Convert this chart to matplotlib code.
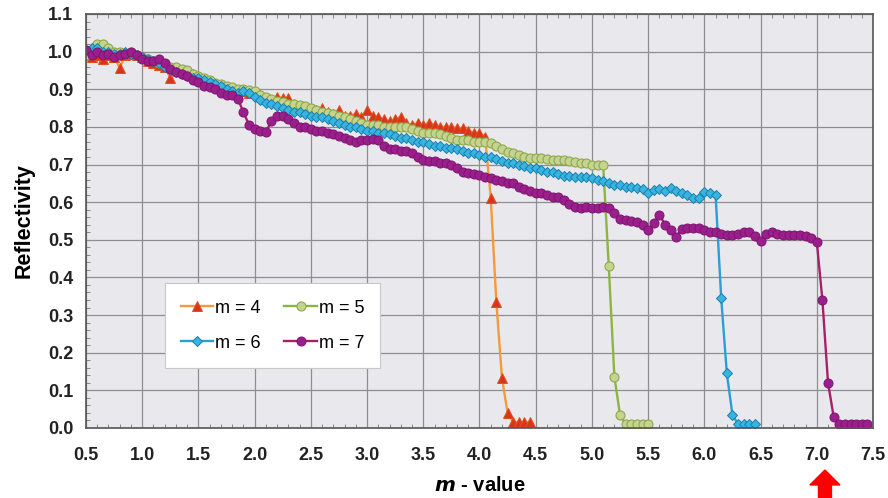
import numpy as np
import matplotlib
matplotlib.use("Agg")
import matplotlib.pyplot as plt
from matplotlib.patches import FancyArrow
from matplotlib.ticker import MultipleLocator

plt.rcParams["font.family"] = ["Liberation Sans", "DejaVu Sans"]

# m-value grids (step 0.05), one per coating
m4_x = np.round(np.arange(0.5, 4.451, 0.05), 2)
m5_x = np.round(np.arange(0.5, 5.501, 0.05), 2)
m6_x = np.round(np.arange(0.5, 6.451, 0.05), 2)
m7_x = np.round(np.arange(0.5, 7.451, 0.05), 2)

# reflectivity
m4_r = [0.99, 0.985, 0.99, 0.98, 0.99, 0.985, 0.957, 0.99, 0.995, 0.99,
        0.985, 0.975, 0.97, 0.965, 0.96, 0.93, 0.955, 0.95, 0.945, 0.94,
        0.93, 0.925, 0.92, 0.915, 0.91, 0.905, 0.90, 0.895, 0.895, 0.89,
        0.89, 0.885, 0.875, 0.87, 0.88, 0.877, 0.878, 0.86, 0.855, 0.85,
        0.846, 0.845, 0.85, 0.84, 0.835, 0.846, 0.83, 0.83, 0.835, 0.825,
        0.846, 0.83, 0.827, 0.82, 0.815, 0.82, 0.827, 0.81, 0.805, 0.81,
        0.805, 0.81, 0.806, 0.80, 0.80, 0.80, 0.797, 0.796, 0.79, 0.785,
        0.784, 0.774, 0.612, 0.335, 0.133, 0.04, 0.015, 0.015, 0.015, 0.015]

m5_r = [0.99, 1.00, 1.02, 1.02, 1.01, 1.00, 1.00, 0.995, 1.00, 0.99,
        0.985, 0.98, 0.975, 0.97, 0.965, 0.96, 0.96, 0.955, 0.95, 0.94,
        0.935, 0.93, 0.925, 0.917, 0.915, 0.91, 0.905, 0.90, 0.90, 0.899,
        0.895, 0.885, 0.88, 0.875, 0.87, 0.865, 0.86, 0.86, 0.859, 0.855,
        0.85, 0.845, 0.84, 0.838, 0.835, 0.83, 0.825, 0.82, 0.815, 0.81,
        0.806, 0.805, 0.805, 0.80, 0.80, 0.80, 0.80, 0.80, 0.795, 0.79,
        0.785, 0.784, 0.784, 0.78, 0.775, 0.77, 0.766, 0.765, 0.765, 0.76,
        0.76, 0.76, 0.758, 0.75, 0.74, 0.734, 0.73, 0.725, 0.72, 0.718,
        0.718, 0.718, 0.715, 0.713, 0.713, 0.713, 0.71, 0.707, 0.705, 0.705,
        0.70, 0.70, 0.70, 0.43, 0.136, 0.035, 0.01, 0.01, 0.01, 0.01,
        0.01]

m6_r = [1.005, 1.01, 1.01, 1.00, 1.00, 0.995, 0.995, 1.00, 0.995, 0.99,
        0.985, 0.98, 0.975, 0.97, 0.96, 0.952, 0.945, 0.94, 0.935, 0.93,
        0.93, 0.925, 0.92, 0.915, 0.91, 0.90, 0.895, 0.89, 0.895, 0.89,
        0.88, 0.872, 0.864, 0.86, 0.855, 0.85, 0.846, 0.84, 0.84, 0.835,
        0.83, 0.827, 0.825, 0.82, 0.815, 0.81, 0.806, 0.80, 0.80, 0.795,
        0.79, 0.788, 0.785, 0.784, 0.78, 0.775, 0.77, 0.77, 0.766, 0.76,
        0.76, 0.755, 0.75, 0.75, 0.745, 0.745, 0.74, 0.735, 0.73, 0.73,
        0.726, 0.72, 0.72, 0.715, 0.71, 0.705, 0.705, 0.70, 0.695, 0.69,
        0.69, 0.685, 0.681, 0.68, 0.675, 0.67, 0.67, 0.668, 0.668, 0.668,
        0.665, 0.66, 0.655, 0.65, 0.645, 0.645, 0.641, 0.64, 0.638, 0.635,
        0.625, 0.633, 0.635, 0.63, 0.638, 0.63, 0.625, 0.62, 0.612, 0.61,
        0.628, 0.625, 0.62, 0.345, 0.145, 0.035, 0.01, 0.01, 0.01, 0.01]

m7_r = [1.005, 0.99, 1.00, 0.99, 0.995, 0.985, 0.99, 0.995, 1.00, 0.99,
        0.98, 0.975, 0.975, 0.98, 0.97, 0.955, 0.945, 0.94, 0.935, 0.925,
        0.92, 0.91, 0.905, 0.90, 0.89, 0.885, 0.885, 0.875, 0.84, 0.805,
        0.795, 0.79, 0.787, 0.815, 0.83, 0.83, 0.82, 0.81, 0.80, 0.80,
        0.795, 0.79, 0.79, 0.785, 0.78, 0.775, 0.77, 0.765, 0.76, 0.765,
        0.765, 0.768, 0.765, 0.75, 0.74, 0.74, 0.735, 0.735, 0.73, 0.72,
        0.713, 0.71, 0.71, 0.705, 0.705, 0.70, 0.69, 0.68, 0.678, 0.675,
        0.672, 0.668, 0.665, 0.66, 0.655, 0.65, 0.65, 0.64, 0.635, 0.63,
        0.625, 0.625, 0.62, 0.615, 0.615, 0.605, 0.595, 0.588, 0.585, 0.588,
        0.585, 0.585, 0.588, 0.585, 0.57, 0.555, 0.553, 0.55, 0.548, 0.54,
        0.527, 0.545, 0.567, 0.54, 0.525, 0.508, 0.53, 0.532, 0.532, 0.532,
        0.525, 0.52, 0.52, 0.515, 0.513, 0.513, 0.515, 0.52, 0.52, 0.51,
        0.497, 0.515, 0.52, 0.515, 0.513, 0.513, 0.513, 0.513, 0.51, 0.505,
        0.495, 0.34, 0.12, 0.03, 0.01, 0.01, 0.01, 0.01, 0.01, 0.01]

x_ticks = [0.5, 1.0, 1.5, 2.0, 2.5, 3.0, 3.5, 4.0, 4.5, 5.0, 5.5, 6.0, 6.5, 7.0, 7.5]
y_ticks = [0.0, 0.1, 0.2, 0.3, 0.4, 0.5, 0.6, 0.7, 0.8, 0.9, 1.0, 1.1]

fig = plt.figure(figsize=(8.88, 4.98), dpi=100)
ax = fig.add_axes([0.0968, 0.1406, 0.8863, 0.8313])
ax.set_facecolor("#e9e9ed")

h4, = ax.plot(m4_x, m4_r, "-", color="#f39a3c", lw=1.7, marker="^", ms=6.5,
              mfc="#d8361c", mec="#e0501e", mew=0.7, label="m = 4")
h5, = ax.plot(m5_x, m5_r, "-", color="#8db443", lw=1.7, marker="o", ms=6.5,
              mfc="#c4d48e", mec="#8fa84c", mew=0.8, label="m = 5")
h6, = ax.plot(m6_x, m6_r, "-", color="#2a9fd6", lw=1.7, marker="D", ms=5.2,
              mfc="#37b4df", mec="#1b7fae", mew=0.7, label="m = 6")
h7, = ax.plot(m7_x, m7_r, "-", color="#a8206a", lw=1.7, marker="o", ms=6.5,
              mfc="#9a1f8c", mec="#7e136f", mew=0.7, label="m = 7")

ax.set_xlim(0.5, 7.5)
ax.set_ylim(0.0, 1.1)
ax.set_xticks(x_ticks)
ax.set_yticks(y_ticks)
ax.set_xticklabels([f"{v:.1f}" for v in x_ticks])
ax.set_yticklabels([f"{v:.1f}" for v in y_ticks])
ax.xaxis.set_minor_locator(MultipleLocator(0.1))
ax.yaxis.set_minor_locator(MultipleLocator(0.02))
ax.tick_params(which="major", length=0, labelsize=13, colors="#222222")
ax.tick_params(axis="x", which="major", pad=14)
ax.tick_params(axis="y", which="major", pad=9)
ax.tick_params(which="minor", direction="in", length=3, color="#777777",
               top=True, bottom=True, left=True)
for lab in ax.get_xticklabels() + ax.get_yticklabels():
    lab.set_fontweight("bold")

ax.grid(True, which="major", color="#8e8e8e", lw=0.9)
ax.set_axisbelow(True)
for s in ax.spines.values():
    s.set_color("#555555")
    s.set_linewidth(1.2)

ax.set_ylabel("Reflectivity", fontsize=15.5, fontweight="bold", labelpad=10)
ax.set_xlabel(r"$\boldsymbol{m}$ - value", fontsize=14.5, fontweight="bold", labelpad=8)

leg = ax.legend(handles=[h4, h6, h5, h7], ncol=2, loc="lower left",
                bbox_to_anchor=(0.100, 0.145), borderaxespad=0, fontsize=13,
                frameon=True, fancybox=False, edgecolor="#c8c8c8",
                facecolor="white", framealpha=1, handlelength=1.8,
                handletextpad=0.1, columnspacing=1.3, labelspacing=1.0,
                borderpad=0.9)
leg.get_frame().set_linewidth(0.8)

# red arrow pointing at m = 7.0 under the axis
fig.patches.append(FancyArrow(0.929, 0.0, 0.0, 0.0562, width=0.0146,
                              head_width=0.0338, head_length=0.030,
                              length_includes_head=True, color="#ff0000",
                              transform=fig.transFigure, figure=fig))

fig.savefig("out.png", dpi=100)
